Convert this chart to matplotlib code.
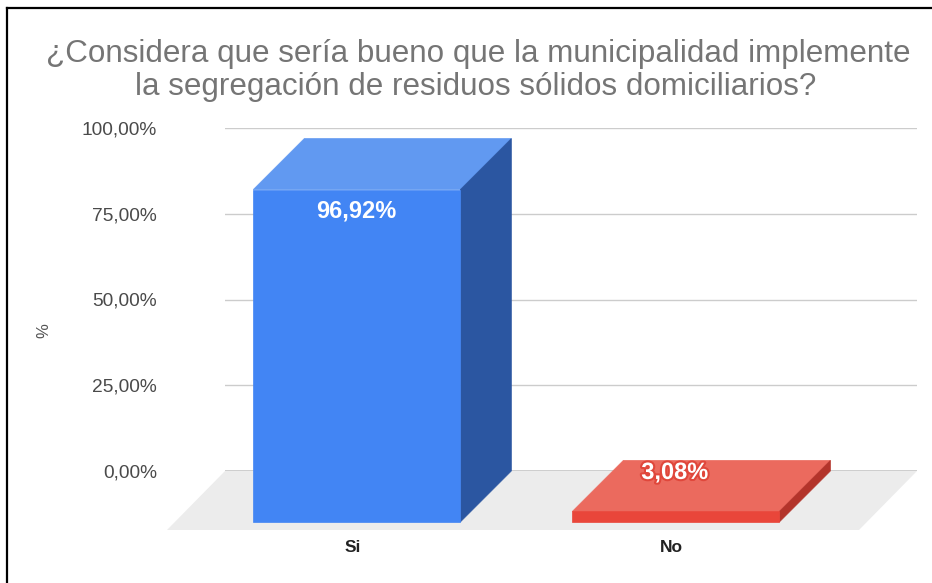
import matplotlib
matplotlib.use("Agg")
import matplotlib.pyplot as plt
from matplotlib.patches import Polygon
from matplotlib.lines import Line2D
from matplotlib.transforms import IdentityTransform, ScaledTranslation
import matplotlib.patheffects as pe

plt.rcParams['font.family'] = ['Liberation Sans', 'DejaVu Sans']

# ---- data ----
categories = ["Si", "No"]
values = [96.92, 3.08]
value_labels = ["96,92%", "3,08%"]
yticks = [0, 25, 50, 75, 100]
ytick_labels = ["0,00%", "25,00%", "50,00%", "75,00%", "100,00%"]
title_lines = ["¿Considera que sería bueno que la municipalidad implemente",
               "la segregación de residuos sólidos domiciliarios?"]
ylabel = "%"

# ---- style ----
front_colors = ["#4285f4", "#e9463a"]
top_colors = ["#6199f1", "#eb6a5e"]
side_colors = ["#2b56a1", "#b3342b"]
label_edge = [None, "#e0473b"]
label_dy = [-21, 39]          # px offset of value label from front-top
BAR_W = 0.649
DX, DY = 51, 51               # bar depth (px)
FDX, FDY = 58, 59             # floor depth (px)

W, H = 932, 583
fig = plt.figure(figsize=(W / 100, H / 100), dpi=100)
ax = fig.add_axes([225 / W, 1 - 471 / H, (917 - 225) / W, (471 - 128) / H])
ax.set_xlim(-0.573, 1.596)
ax.set_ylim(0, 100)
ax.set_yticks(yticks)
ax.set_yticklabels(ytick_labels)
ax.set_xticks([])
for s in ax.spines.values():
    s.set_visible(False)
ax.tick_params(axis='y', length=0, pad=49, labelsize=13.8, labelcolor='#4a4a4a')
ax.yaxis.grid(True, color='#cccccc', lw=1)
ax.set_axisbelow(True)
ax.axhline(0, color='#333333', lw=1, zorder=1.5)

fig.canvas.draw()
px = 1 / 100.0
front_tr = ax.transData + ScaledTranslation(-DX * px, -DY * px, fig.dpi_scale_trans)


def disp(tr, pts):
    return tr.transform(pts)


# floor
back = disp(ax.transAxes, [(0, 0), (1, 0)])
floor = [tuple(back[0]), tuple(back[1]),
         (back[1][0] - FDX, back[1][1] - FDY), (back[0][0] - FDX, back[0][1] - FDY)]
ax.add_artist(Polygon(floor, closed=True, facecolor='#ececec', edgecolor='none',
                      transform=IdentityTransform(), zorder=0.5, clip_on=False))

# bars
for i, (cat, v) in enumerate(zip(categories, values)):
    x0, x1 = i - BAR_W / 2, i + BAR_W / 2
    b = disp(ax.transData, [(x0, 0), (x1, 0), (x1, v), (x0, v)])
    f = disp(front_tr, [(x0, 0), (x1, 0), (x1, v), (x0, v)])
    faces = [
        ([f[3], f[2], b[2], b[3]], top_colors[i]),
        ([f[2], b[2], b[1], f[1]], side_colors[i]),
        ([f[0], f[1], f[2], f[3]], front_colors[i]),
    ]
    for pts, col in faces:
        ax.add_artist(Polygon([tuple(p) for p in pts], closed=True, facecolor=col,
                              edgecolor=col, lw=0.5, transform=IdentityTransform(),
                              zorder=3, clip_on=False))
    # value label
    t_tr = front_tr + ScaledTranslation(-1 * px, label_dy[i] * px, fig.dpi_scale_trans)
    t = ax.text(i, v, value_labels[i], transform=t_tr, ha='center', va='center',
                fontsize=17, fontweight='bold', color='white', zorder=5, clip_on=False)
    if label_edge[i]:
        t.set_path_effects([pe.withStroke(linewidth=3, foreground=label_edge[i])])
    # category label
    c_tr = front_tr + ScaledTranslation(-4 * px, -26 * px, fig.dpi_scale_trans)
    ax.text(i, 0, cat, transform=c_tr, ha='center', va='center', fontsize=12.5,
            fontweight='bold', color='#222222', clip_on=False)

# titles
fig.text(478 / W, 1 - 62 / H, title_lines[0], ha='center', va='baseline',
         fontsize=22.6, color='#757575')
fig.text(476 / W, 1 - 95 / H, title_lines[1], ha='center', va='baseline',
         fontsize=22.6, color='#757575')
fig.text(44 / W, 1 - 331 / H, ylabel, rotation=90, ha='center', va='center',
         fontsize=12, color='#555555')

# frame border (top & left)
fig.add_artist(Line2D([6.5 / W, 1], [1 - 7.5 / H, 1 - 7.5 / H], color='black', lw=1.6,
                      transform=fig.transFigure))
fig.add_artist(Line2D([6.5 / W, 6.5 / W], [0, 1 - 7.5 / H], color='black', lw=1.6,
                      transform=fig.transFigure))

fig.savefig("out.png", dpi=100)
